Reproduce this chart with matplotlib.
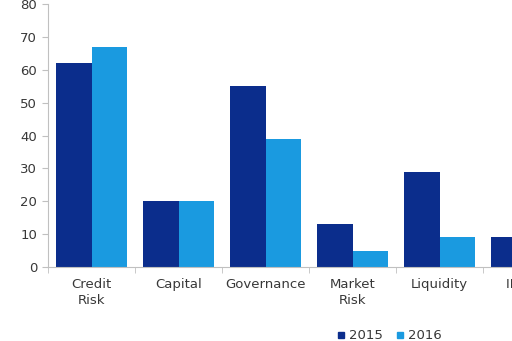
import matplotlib
matplotlib.use("Agg")
import matplotlib.pyplot as plt
import numpy as np
from matplotlib.lines import Line2D

categories = ["Credit\nRisk", "Capital", "Governance", "Market\nRisk", "Liquidity", "IFRS 9"]
values_2015 = [62, 20, 55, 13, 29, 9]
values_2016 = [67, 20, 39, 5, 9, 10]
series_labels = ["2015", "2016"]
yticks = [0, 10, 20, 30, 40, 50, 60, 70, 80]

c2015 = "#0b2d8c"
c2016 = "#1a9ae0"
tc = "#383838"
sc = "#c0c0c0"

fig = plt.figure(figsize=(5.12, 3.41), dpi=100)
ax = fig.add_axes([0.094, 0.217, 0.906, 0.771])

x = np.arange(len(categories))
w = 0.41
ax.bar(x - w / 2, values_2015, w, color=c2015, label=series_labels[0])
ax.bar(x + w / 2, values_2016, w, color=c2016, label=series_labels[1])

ax.set_yticks(yticks)
ax.set_yticklabels([str(t) for t in yticks], fontsize=9.5, color=tc)
ax.set_xticks(x)
ax.set_xticklabels(categories, fontsize=9.5, color=tc, linespacing=1.25)
ax.set_xticks(np.arange(len(categories)) - 0.5, minor=True)
ax.tick_params(axis="x", which="major", length=0, pad=8)
ax.tick_params(axis="x", which="minor", length=4, color=sc, direction="out")
ax.tick_params(axis="y", length=4, color=sc, pad=4)
ax.set_xlim(-0.5, 4.83)
ax.set_ylim(0, 80)

# category labels whose tick lies beyond the visible range (partly cut by the figure edge)
xmax = ax.get_xlim()[1]
for xi, lab in zip(x, categories):
    if xi > xmax:
        ax.annotate(lab, xy=(xi, 0), xycoords=("data", "axes fraction"),
                    xytext=(0, -8), textcoords="offset points", ha="center", va="top",
                    fontsize=9.5, color=tc, linespacing=1.25, annotation_clip=False)

for s in ["top", "right"]:
    ax.spines[s].set_visible(False)
ax.spines["left"].set_color(sc)
ax.spines["bottom"].set_color(sc)

handles = [Line2D([], [], marker="s", linestyle="none", color=c2015, markersize=5),
           Line2D([], [], marker="s", linestyle="none", color=c2016, markersize=5)]
fig.legend(handles, series_labels, loc="center", bbox_to_anchor=(0.76, 0.015),
           ncol=2, frameon=False, fontsize=9.5, handlelength=0.6, handletextpad=0.3,
           columnspacing=1.0, labelcolor=tc)

fig.savefig("out.png", dpi=100)
